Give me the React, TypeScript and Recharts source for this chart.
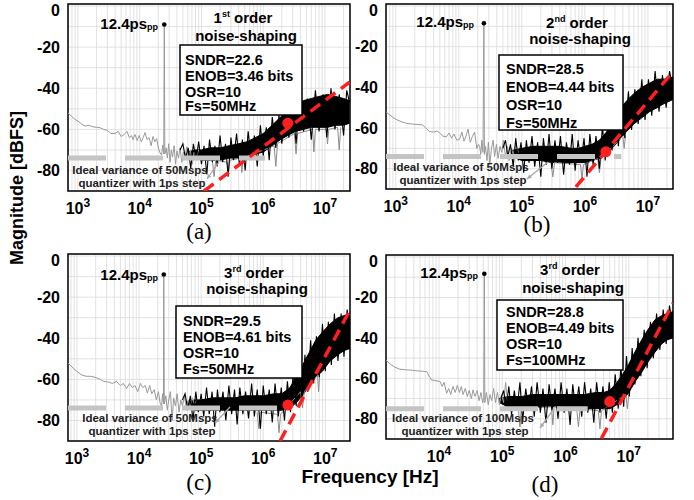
import React from 'react';
import {
  ComposedChart,
  Line,
  Area,
  XAxis,
  YAxis,
  CartesianGrid,
  ReferenceDot,
  ReferenceArea,
} from 'recharts';

type P = [number, number];
type B = [number, number, number];

// ---- (a) 1st order, Fs = 50MHz ----
const traceA: P[] = [
  [690, -52], [780, -53.5], [880, -55], [1000, -56], [1150, -57.5], [1300, -58.4], [1500, -58], [1750, -58.8],
  [2000, -59], [2270, -59.2], [2600, -60], [3000, -60.5], [3400, -62], [3980, -62], [4500, -61], [5000, -63.5],
  [5600, -62.5], [6220, -61], [6800, -64], [7400, -63], [7770, -65], [8400, -62.5], [9100, -65.5], [9800, -63],
  [10600, -66], [11400, -64], [12200, -61.5], [13100, -65], [14200, -64], [15300, -68], [16400, -63.5], [17600, -66],
  [18800, -64.5], [20000, -69], [21400, -71.5], [22600, -72.5], [23600, -67.6], [24500, -72], [25000, -9], [25500, -72],
  [26800, -69], [28000, -74], [29500, -67], [31000, -76], [32500, -70], [34000, -73.5], [36000, -68], [38000, -77],
  [40000, -70.5], [42500, -74], [45000, -69], [48000, -76], [51000, -71], [54000, -73], [58000, -68.5], [62000, -75],
  [66000, -70], [71000, -77], [76000, -71], [82000, -74], [90000, -70],
];
const bandA: B[] = [
  [60000, -73, -71], [80000, -74, -70], [1e5, -75, -70], [1.4e5, -75, -69], [2e5, -75, -69], [2.8e5, -74, -68],
  [4e5, -74, -67], [5.5e5, -73, -66], [7.5e5, -72, -64], [1e6, -71, -62], [1.4e6, -68, -58], [1.9e6, -65, -54],
  [2.5e6, -63, -51], [3.3e6, -61, -48], [4.5e6, -60, -46], [6e6, -59, -45], [8e6, -59, -44], [1.1e7, -59, -43],
  [1.5e7, -58, -44], [2e7, -58, -45], [2.5e7, -57, -46],
];
const jagA: P[] = [
  [45000, -70], [50000, -67], [55000, -74], [61000, -69], [67000, -79], [74000, -67], [82000, -75], [90000, -66],
  [1e5, -77], [1.1e5, -68], [1.22e5, -82], [1.35e5, -65], [1.5e5, -76], [1.65e5, -68], [1.8e5, -78], [2e5, -63],
  [2.2e5, -76], [2.45e5, -67], [2.7e5, -83], [3e5, -64], [3.3e5, -75], [3.7e5, -62], [4.1e5, -77], [4.6e5, -65],
  [5.1e5, -80], [5.7e5, -61], [6.4e5, -75], [7.2e5, -63], [8e5, -78], [9e5, -58], [1e6, -73], [1.12e6, -59],
  [1.25e6, -75], [1.4e6, -54], [1.6e6, -69], [1.8e6, -53], [2e6, -67], [2.3e6, -48], [2.6e6, -64], [3e6, -47],
  [3.4e6, -67], [3.9e6, -44], [4.5e6, -61], [5.2e6, -45], [6e6, -65], [7e6, -41], [8e6, -61], [9.3e6, -43],
  [1.07e7, -64], [1.25e7, -40], [1.45e7, -60], [1.7e7, -43], [2e7, -63], [2.25e7, -41], [2.5e7, -47],
];
const spursA: P[] = [
  [1.5e5, -75], [1.6e5, -83], [1.7e5, -75], [2.6e5, -76], [2.75e5, -80], [2.9e5, -75], [4.3e5, -74], [4.5e5, -81],
  [4.7e5, -74], [1.5e6, -68], [1.6e6, -78], [1.7e6, -67], [3.2e6, -62], [3.4e6, -72], [3.6e6, -62], [6.3e6, -60],
  [6.6e6, -71], [7e6, -60], [1.05e7, -60], [1.1e7, -67], [1.15e7, -60], [1.6e7, -59], [1.7e7, -70], [1.8e7, -59],
];
const barA: P[] = [[690, -74], [1.07e6, -74]];
const redA: P[] = [[1.1e5, -90], [2.5e7, -37]];
const dotA: P = [2.5e6, -57];
const peakA: P = [25000, -9];

// ---- (b) 2nd order, Fs = 50MHz ----
const traceB: P[] = [
  [700, -52], [800, -53.5], [920, -55], [1050, -56], [1250, -57], [1480, -57.7], [1750, -58], [2100, -58.2],
  [2680, -58.5], [3000, -60], [3450, -61.8], [4000, -62], [4500, -61.5], [5000, -62.5], [5600, -64], [6340, -64.3],
  [7000, -62.5], [7700, -65], [8400, -63], [9300, -66], [10300, -65.5], [11200, -62], [12100, -66.5], [13000, -64],
  [14000, -60.5], [15200, -67], [16500, -64], [17800, -62], [19300, -70], [20500, -68], [21400, -69], [22300, -73],
  [23200, -66], [24200, -72], [25000, -9], [25500, -73],
  [26500, -69], [28000, -76], [29500, -67], [31000, -78], [33000, -70], [35000, -66], [37000, -74], [39500, -68],
  [42000, -75], [45000, -69], [48000, -72], [51000, -66], [55000, -74], [59000, -69], [63000, -76], [68000, -70],
  [73000, -73], [80000, -68], [88000, -72],
];
const bandB: B[] = [
  [70000, -74, -71], [1e5, -76, -70], [1.5e5, -76, -69], [2e5, -76, -69], [3e5, -77, -69], [4e5, -77, -69],
  [6e5, -77, -70], [8e5, -77, -70], [1e6, -77, -69], [1.3e6, -76, -68], [1.7e6, -75, -66], [2.2e6, -73, -62],
  [2.7e6, -70, -57], [3.5e6, -66, -51], [4.5e6, -62, -47], [6e6, -58, -43], [8e6, -55, -40], [1.05e7, -52, -38],
  [1.4e7, -50, -36], [1.8e7, -48, -36], [2.5e7, -46, -35],
];
const jagB: P[] = [
  [50000, -70], [55000, -66], [60000, -74], [66000, -68], [73000, -79], [80000, -65], [88000, -76], [97000, -67],
  [1.07e5, -82], [1.18e5, -66], [1.3e5, -77], [1.45e5, -64], [1.6e5, -79], [1.78e5, -67], [2e5, -84], [2.2e5, -65],
  [2.45e5, -78], [2.7e5, -63], [3e5, -80], [3.35e5, -66], [3.7e5, -77], [4.1e5, -64], [4.6e5, -83], [5.1e5, -67],
  [5.7e5, -78], [6.3e5, -63], [7e5, -81], [7.8e5, -66], [8.7e5, -77], [9.7e5, -65], [1.08e6, -84], [1.2e6, -63],
  [1.35e6, -78], [1.5e6, -64], [1.7e6, -80], [1.9e6, -59], [2.1e6, -76], [2.4e6, -55], [2.7e6, -71], [3e6, -50],
  [3.4e6, -69], [3.8e6, -47], [4.3e6, -65], [4.9e6, -42], [5.5e6, -61], [6.2e6, -41], [7e6, -58], [8e6, -36],
  [9e6, -56], [1.02e7, -36], [1.15e7, -54], [1.3e7, -32], [1.5e7, -52], [1.7e7, -34], [1.95e7, -50], [2.2e7, -32],
  [2.5e7, -40],
];
const spursB: P[] = [
  [2.9e5, -77], [3.1e5, -84], [3.3e5, -77], [8.5e5, -78], [9e5, -85], [9.5e5, -78], [1.6e6, -75], [1.7e6, -82],
  [1.8e6, -75], [4e6, -64], [4.2e6, -70], [4.4e6, -64],
];
const barB: P[] = [[700, -74], [3.77e6, -74]];
const redB: P[] = [[7.2e5, -89], [2.33e7, -33.4]];
const dotB: P = [2.15e6, -71.7];
const peakB: P = [25000, -8.5];

// ---- (c) 3rd order, Fs = 50MHz ----
const traceC: P[] = [
  [716, -52], [800, -53.5], [900, -55], [1030, -56.5], [1200, -57.9], [1400, -58.5], [1650, -58.5], [1950, -59],
  [2300, -59.8], [2700, -61], [3200, -61.3], [3700, -62], [4300, -61], [5000, -63], [5600, -62], [6300, -64.5],
  [7000, -62], [7800, -64], [8600, -63], [9500, -66], [10500, -62], [11500, -64], [12500, -63], [13600, -66.6],
  [14800, -63], [16000, -67], [17500, -65], [19000, -70], [20500, -66], [21800, -71.5], [23000, -73], [24000, -67],
  [24700, -72], [25000, -9], [25500, -72],
  [27000, -68], [28500, -75], [30000, -70], [32000, -66], [34000, -80], [36000, -69], [38500, -73], [41000, -67],
  [44000, -76], [47000, -70], [50000, -73], [54000, -68], [58000, -75], [62000, -70], [67000, -74], [72000, -69],
  [78000, -72], [85000, -70],
];
const bandC: B[] = [
  [60000, -73, -71], [80000, -75, -70], [1e5, -75, -70], [1.5e5, -75, -69], [2.5e5, -75, -69], [3.5e5, -75, -69],
  [5e5, -75, -68], [7e5, -75, -68], [1e6, -75, -68], [1.5e6, -75, -67], [2e6, -75, -67], [2.7e6, -74, -64],
  [3.5e6, -71, -58], [4.5e6, -67, -52], [5.5e6, -63, -47], [7e6, -59, -41], [9e6, -56, -37], [1.2e7, -51, -33],
  [1.6e7, -48, -30], [2e7, -46, -29], [2.5e7, -45, -28],
];
const jagC: P[] = [
  [50000, -70], [55000, -67], [61000, -75], [67000, -68], [74000, -80], [82000, -66], [90000, -76], [1e5, -67],
  [1.1e5, -78], [1.22e5, -64], [1.35e5, -77], [1.5e5, -66], [1.65e5, -83], [1.83e5, -65], [2e5, -76], [2.25e5, -66],
  [2.5e5, -80], [2.8e5, -63], [3.1e5, -77], [3.45e5, -65], [3.8e5, -82], [4.2e5, -64], [4.7e5, -77], [5.2e5, -66],
  [5.8e5, -79], [6.5e5, -62], [7.2e5, -78], [8e5, -65], [9e5, -84], [1e6, -63], [1.12e6, -77], [1.25e6, -65],
  [1.4e6, -81], [1.55e6, -62], [1.75e6, -78], [1.95e6, -64], [2.2e6, -80], [2.45e6, -61], [2.75e6, -76], [3.05e6, -56],
  [3.4e6, -73], [3.8e6, -50], [4.2e6, -69], [4.7e6, -48], [5.2e6, -66], [5.8e6, -41], [6.5e6, -62], [7.2e6, -39],
  [8e6, -59], [9e6, -33], [1e7, -56], [1.12e7, -32], [1.25e7, -53], [1.4e7, -28], [1.6e7, -51], [1.8e7, -28],
  [2e7, -49], [2.25e7, -26], [2.5e7, -36],
];
const spursC: P[] = [
  [8e5, -76], [8.5e5, -84], [9e5, -76], [1.7e6, -77], [1.8e6, -86], [1.9e6, -77], [4e6, -66], [4.3e6, -74],
  [4.6e6, -66], [7.5e6, -58], [7.8e6, -66], [8.1e6, -58],
];
const barC: P[] = [[716, -74], [2.05e6, -74]];
const redC: P[] = [[1.87e6, -90], [2.35e7, -27.7]];
const dotC: P = [2.5e6, -72.5];
const peakC: P = [25000, -9];

// ---- (d) 3rd order, Fs = 100MHz ----
const traceD: P[] = [
  [1450, -51], [1700, -53], [2000, -54.5], [2400, -55.5], [3090, -55.8], [3800, -56], [4600, -56.3], [5500, -56.5],
  [6400, -56.7], [7000, -59], [7600, -60.8], [8300, -61], [9300, -61.3], [10400, -61.6], [11200, -64], [12000, -62],
  [13200, -67.4], [14200, -65], [15300, -68], [16600, -64], [18000, -67], [19500, -63.5], [21000, -67], [22500, -64],
  [24000, -68], [26000, -65], [28000, -69], [30000, -66], [32500, -70], [34400, -65.7], [37000, -69], [40000, -66],
  [43000, -71], [46000, -67], [49000, -72], [51000, -70], [52000, -8.3], [53000, -72],
  [56000, -67], [60000, -73], [64000, -68], [68000, -71], [73000, -65], [78000, -72], [84000, -67], [90000, -73],
  [97000, -68], [1.05e5, -72], [1.13e5, -62], [1.2e5, -71],
];
const bandD: B[] = [
  [90000, -72, -70], [1.2e5, -74, -69], [2e5, -75, -69], [3e5, -74, -68], [5e5, -74, -68], [8e5, -74, -68],
  [1.2e6, -74, -68], [2e6, -75, -68], [3e6, -75, -67], [4e6, -75, -67], [5e6, -75, -66], [6.5e6, -73, -62],
  [8e6, -71, -58], [1e7, -67, -53], [1.3e7, -61, -46], [1.6e7, -57, -41], [2e7, -52, -36], [2.6e7, -47, -31],
  [3.3e7, -43, -29], [4e7, -41, -28], [5e7, -40, -27],
];
const jagD: P[] = [
  [95000, -70], [1.05e5, -66], [1.15e5, -75], [1.27e5, -64], [1.4e5, -78], [1.55e5, -66], [1.7e5, -76], [1.9e5, -62],
  [2.1e5, -81], [2.35e5, -65], [2.6e5, -76], [2.9e5, -64], [3.2e5, -79], [3.55e5, -62], [4e5, -77], [4.4e5, -65],
  [4.9e5, -82], [5.5e5, -63], [6.1e5, -76], [6.8e5, -65], [7.6e5, -80], [8.5e5, -62], [9.5e5, -77], [1.05e6, -65],
  [1.18e6, -83], [1.3e6, -63], [1.45e6, -76], [1.62e6, -64], [1.8e6, -79], [2e6, -62], [2.25e6, -77], [2.5e6, -65],
  [2.8e6, -82], [3.1e6, -62], [3.5e6, -77], [3.9e6, -64], [4.4e6, -80], [4.9e6, -62], [5.5e6, -77], [6.1e6, -58],
  [6.8e6, -75], [7.5e6, -54], [8.3e6, -74], [9.2e6, -49], [1.02e7, -69], [1.13e7, -45], [1.25e7, -63], [1.4e7, -40],
  [1.55e7, -59], [1.75e7, -36], [1.95e7, -55], [2.2e7, -32], [2.45e7, -50], [2.75e7, -28], [3.1e7, -46], [3.5e7, -26],
  [3.9e7, -43], [4.4e7, -24], [5e7, -35],
];
const spursD: P[] = [
  [1.8e5, -75], [1.9e5, -84], [2e5, -75], [6e5, -74], [6.3e5, -83], [6.6e5, -74], [1.5e6, -75], [1.6e6, -84],
  [1.7e6, -75], [3.3e6, -76], [3.5e6, -85], [3.7e6, -76], [9e6, -68], [9.5e6, -75], [1e7, -68],
];
const barD: P[] = [[1450, -75], [2.24e6, -75]];
const redD: P[] = [[3.7e6, -89.7], [5e7, -22.8]];
const dotD: P = [5e6, -71.5];
const peakD: P = [52000, -8.3];

const yTicks = [0, -10, -20, -30, -40, -50, -60, -70, -80, -90];

const SANS = '"Liberation Sans", Arial, Helvetica, sans-serif';
const SERIF = '"Liberation Serif", "Times New Roman", serif';
const RED = '#ff1f1f';

const pts = (a: P[]) => a.map(([f, v]) => ({ f, v }));
const range = (a: B[]) => a.map(([f, lo, hi]) => ({ f, r: [lo, hi] }));

function logTicks(lo: number, hi: number) {
  const out: number[] = [];
  for (let e = 2; e <= 8; e++) {
    for (let m = 1; m <= 9; m++) {
      const v = m * Math.pow(10, e);
      if (v >= lo && v <= hi) out.push(v);
    }
  }
  return out;
}

const XTick = (props: any) => {
  const { x, y, payload } = props;
  const e = Math.log10(payload.value);
  if (Math.abs(e - Math.round(e)) > 1e-6) return <g />;
  return (
    <text x={x} y={y + 15} textAnchor="middle" fontFamily={SANS} fontWeight="bold" fontSize={16} fill="#000">
      10<tspan dy={-7} fontSize={12}>{Math.round(e)}</tspan>
    </text>
  );
};

const YTick = (props: any) => {
  const { x, y, payload } = props;
  const v = payload.value;
  if (v % 20 !== 0 || v < -80) return <g />;
  return (
    <text x={x} y={y + (v === 0 ? 4 : 0)} dy="0.35em" textAnchor="end" fontFamily={SANS} fontWeight="bold" fontSize={16} fill="#000">
      {v}
    </text>
  );
};

type PanelProps = {
  left: number;
  top: number;
  width: number;
  height: number;
  mTop: number;
  domain: [number, number];
  trace: P[];
  band: B[];
  jag: P[];
  spurs: P[];
  bar: P[];
  red: P[];
  dot: P;
  peak: P;
};

function Panel(p: PanelProps) {
  return (
    <div style={{ position: 'absolute', left: p.left, top: p.top }}>
      <ComposedChart width={p.width} height={p.height} margin={{ top: p.mTop, right: 2, bottom: 20, left: 0 }}>
        <CartesianGrid stroke="#dadada" strokeWidth={0.8} />
        <XAxis
          dataKey="f"
          type="number"
          scale="log"
          domain={p.domain}
          allowDataOverflow
          ticks={logTicks(p.domain[0], p.domain[1])}
          interval={0}
          tick={<XTick />}
          tickLine={false}
          axisLine={false}
          height={24}
        />
        <YAxis
          type="number"
          domain={[-90, 1]}
          allowDataOverflow
          ticks={yTicks}
          interval={0}
          tick={<YTick />}
          tickLine={false}
          axisLine={false}
          width={68}
        />
        <Line data={pts(p.trace)} dataKey="v" stroke="#9a9a9a" strokeWidth={1} dot={false} isAnimationActive={false} />
        <Line data={pts(p.spurs)} dataKey="v" stroke="#8c8c8c" strokeWidth={1} dot={false} isAnimationActive={false} />
        <Area data={range(p.band)} dataKey="r" stroke="#000" strokeWidth={1} fill="#000" fillOpacity={1} dot={false} isAnimationActive={false} />
        <Line data={pts(p.jag)} dataKey="v" stroke="#000" strokeWidth={1.1} dot={false} isAnimationActive={false} />
        <Line data={pts(p.bar)} dataKey="v" stroke="#c4c4c4" strokeWidth={5} strokeDasharray="38 19" dot={false} isAnimationActive={false} />
        <Line data={pts(p.red)} dataKey="v" stroke={RED} strokeWidth={3.5} strokeDasharray="12 7" dot={false} isAnimationActive={false} />
        <ReferenceDot x={p.peak[0]} y={p.peak[1]} r={2.3} fill="#000" stroke="none" />
        <ReferenceDot x={p.dot[0]} y={p.dot[1]} r={5.5} fill={RED} stroke="none" />
        <ReferenceArea x1={p.domain[0]} x2={p.domain[1]} y1={-90} y2={1} fill="none" stroke="#000" strokeWidth={1.5} />
      </ComposedChart>
    </div>
  );
}

type NoteProps = {
  ps: [number, number];
  order: string;
  sup: string;
  title: [number, number, number];
  box: [number, number, number, number];
  tx: number;
  lines: string[];
  ly: number[];
  ideal: string;
  ix: number;
  iy: [number, number];
  arrow: [number, number, number, number];
};

function Notes(n: NoteProps) {
  const [ax1, ay1, ax2, ay2] = n.arrow;
  const ang = Math.atan2(ay2 - ay1, ax2 - ax1);
  const h = 5;
  const hx1 = ax2 - h * Math.cos(ang - 0.45);
  const hy1 = ay2 - h * Math.sin(ang - 0.45);
  const hx2 = ax2 - h * Math.cos(ang + 0.45);
  const hy2 = ay2 - h * Math.sin(ang + 0.45);
  return (
    <g fontFamily={SANS} fontWeight="bold" fill="#000">
      <text x={n.ps[0]} y={n.ps[1]} textAnchor="end" fontSize={15}>
        12.4ps<tspan fontSize={9} dy={1}>pp</tspan>
      </text>
      <text x={n.title[0]} y={n.title[1]} textAnchor="middle" fontSize={15}>
        {n.order}
        <tspan dy={-6} fontSize={9}>{n.sup}</tspan>
        <tspan dy={6}>{'\u00a0order'}</tspan>
      </text>
      <text x={n.title[0] + 3} y={n.title[2]} textAnchor="middle" fontSize={15}>
        noise-shaping
      </text>
      <rect x={n.box[0]} y={n.box[1]} width={n.box[2]} height={n.box[3]} fill="#fff" stroke="#000" strokeWidth={1.5} />
      {n.lines.map((s, i) => (
        <text key={s} x={n.tx} y={n.ly[i]} fontSize={14.5}>
          {s}
        </text>
      ))}
      <text x={n.ix} y={n.iy[0]} textAnchor="middle" fontSize={11.5} fill="#222">
        {n.ideal}
      </text>
      <text x={n.ix + 2} y={n.iy[1]} textAnchor="middle" fontSize={11.5} fill="#222">
        quantizer with 1ps step
      </text>
      <line x1={ax1} y1={ay1} x2={ax2} y2={ay2} stroke="#a8a8a8" strokeWidth={1.3} />
      <polygon points={`${ax2},${ay2} ${hx1},${hy1} ${hx2},${hy2}`} fill="#a8a8a8" stroke="none" />
    </g>
  );
}

export default function App() {
  return (
    <div style={{ position: 'absolute', left: 0, top: 0, width: 694, height: 500, background: '#fff', overflow: 'hidden' }}>
      <Panel left={0} top={0} width={352} height={235} mTop={4} domain={[690, 2.54e7]}
        trace={traceA} band={bandA} jag={jagA} spurs={spursA} bar={barA} red={redA} dot={dotA} peak={peakA} />
      <Panel left={318} top={0} width={357} height={233} mTop={4} domain={[700, 2.5e7]}
        trace={traceB} band={bandB} jag={jagB} spurs={spursB} bar={barB} red={redB} dot={dotB} peak={peakB} />
      <Panel left={0} top={250} width={352} height={235} mTop={4} domain={[716, 2.5e7]}
        trace={traceC} band={bandC} jag={jagC} spurs={spursC} bar={barC} red={redC} dot={dotC} peak={peakC} />
      <Panel left={318} top={250} width={357} height={233} mTop={5} domain={[1450, 5e7]}
        trace={traceD} band={bandD} jag={jagD} spurs={spursD} bar={barD} red={redD} dot={dotD} peak={peakD} />
      <svg width={694} height={500} style={{ position: 'absolute', left: 0, top: 0, pointerEvents: 'none' }}>
        <Notes ps={[158, 28.5]} order="1" sup="st" title={[243, 23, 41]} box={[180, 45, 122, 70]} tx={185}
          lines={['SNDR=22.6', 'ENOB=3.46 bits', 'OSR=10', 'Fs=50MHz']} ly={[64.5, 80.5, 96.5, 111]}
          ideal="Ideal variance of 50Msps" ix={140} iy={[174, 186.5]} arrow={[219, 162, 207, 179]} />
        <Notes ps={[474, 27]} order="2" sup="nd" title={[577, 28, 44]} box={[499, 55, 124, 75]} tx={506}
          lines={['SNDR=28.5', 'ENOB=4.44 bits', 'OSR=10', 'Fs=50MHz']} ly={[73.5, 91.5, 109.5, 127.5]}
          ideal="Ideal variance of 50Msps" ix={461} iy={[170.5, 183.5]} arrow={[548, 162, 527, 179]} />
        <Notes ps={[158, 280]} order="3" sup="rd" title={[254, 277.5, 294]} box={[176, 306, 126, 72]} tx={183}
          lines={['SNDR=29.5', 'ENOB=4.61 bits', 'OSR=10', 'Fs=50MHz']} ly={[326, 342, 358, 374]}
          ideal="Ideal variance of 50Msps" ix={150} iy={[422, 435]} arrow={[230, 407, 215, 423]} />
        <Notes ps={[478, 278]} order="3" sup="rd" title={[570, 275, 293]} box={[497, 300, 126, 70]} tx={506}
          lines={['SNDR=28.8', 'ENOB=4.49 bits', 'OSR=10', 'Fs=100MHz']} ly={[317, 333, 349, 365]}
          ideal="Ideal variance of 100Msps" ix={463} iy={[422, 435]} arrow={[553, 410, 540, 428]} />
        <text transform="translate(17,188) rotate(-90)" textAnchor="middle" dominantBaseline="central"
          fontFamily={SANS} fontWeight="bold" fontSize={18} fill="#000">
          Magnitude [dBFS]
        </text>
        <text x={370} y={483} textAnchor="middle" fontFamily={SANS} fontWeight="bold" fontSize={19} fill="#000">
          Frequency [Hz]
        </text>
        <g fontFamily={SERIF} fontSize={23} fill="#000" textAnchor="middle">
          <text x={199} y={239}>(a)</text>
          <text x={537} y={232}>(b)</text>
          <text x={199} y={490}>(c)</text>
          <text x={545} y={492}>(d)</text>
        </g>
      </svg>
    </div>
  );
}
